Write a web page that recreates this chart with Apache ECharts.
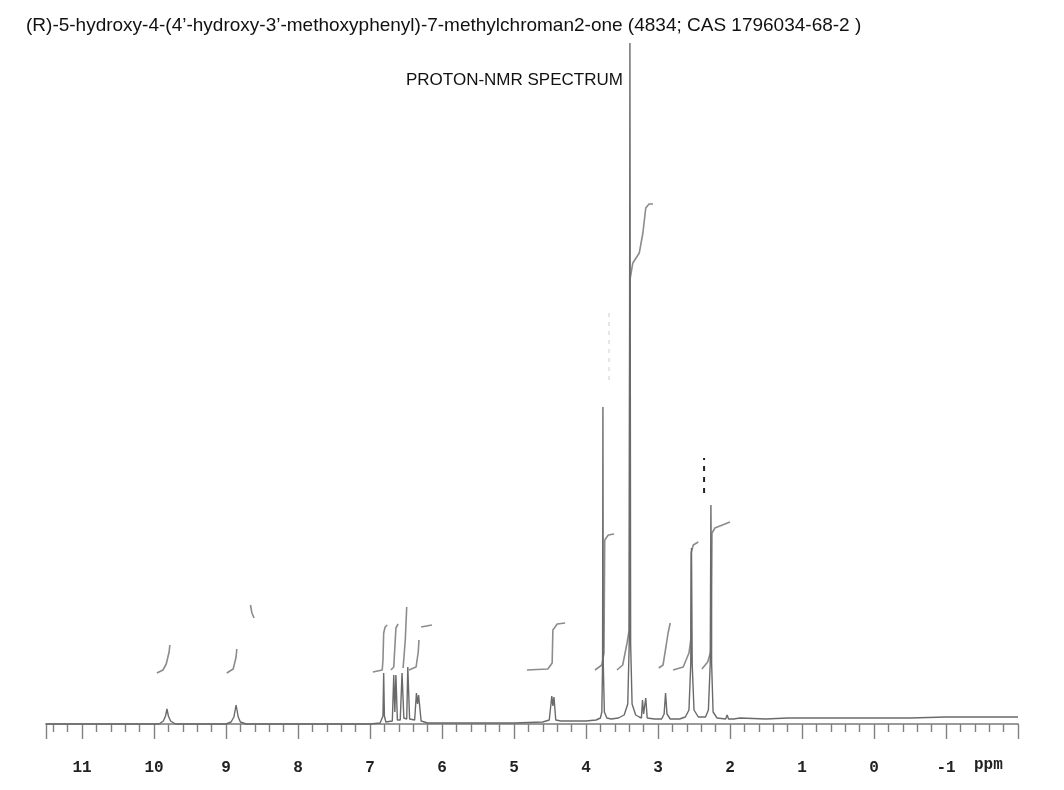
<!DOCTYPE html>
<html>
<head>
<meta charset="utf-8">
<script src="https://cdn.jsdelivr.net/npm/echarts@6/dist/echarts.min.js"></script>
<style>html,body{margin:0;padding:0;background:#fff;}#c{width:1064px;height:790px;}</style>
</head>
<body>
<div id="c"></div>
<script>
// ---- Data (ppm, relative intensity) ----
const titleText = "(R)-5-hydroxy-4-(4\u2019-hydroxy-3\u2019-methoxyphenyl)-7-methylchroman2-one (4834; CAS 1796034-68-2 )";
const subTitleText = "PROTON-NMR SPECTRUM";
const axisUnit = "ppm";
const tickLabels = [11, 10, 9, 8, 7, 6, 5, 4, 3, 2, 1, 0, -1];

const spectrum = [
  [11.5,0],[10.5,0],[10.0,0],
  [9.93,0],[9.87,3],[9.84,8],[9.82,15],[9.80,8],[9.77,3],[9.70,0],
  [9.0,0],[8.93,2],[8.89,7],[8.86,19],[8.83,7],[8.80,2],[8.72,0],
  [7.5,0],[7.0,0],[6.86,1],
  [6.82,8],[6.81,51],[6.80,8],[6.78,2],
  [6.69,3],[6.67,49],[6.655,12],[6.64,49],[6.62,4],
  [6.58,4],[6.555,51],[6.53,6],
  [6.49,5],[6.475,57],[6.45,5],
  [6.38,4],[6.355,31],[6.34,20],[6.325,29],[6.29,3],[6.2,1],
  [5.0,1],[4.6,2],[4.51,4],[4.475,28],[4.46,18],[4.445,27],[4.42,4],[4.35,3],
  [4.0,3],[3.86,4],[3.8,6],[3.78,12],[3.77,60],[3.765,317],[3.76,60],[3.745,12],[3.71,6],[3.65,5],
  [3.55,6],[3.47,9],[3.42,20],[3.40,80],[3.39,681],[3.38,80],[3.36,20],[3.31,9],[3.26,7],
  [3.23,6],[3.215,24],[3.20,10],[3.17,26],[3.15,6],[3.05,5],
  [2.95,5],[2.915,10],[2.895,31],[2.875,10],[2.83,5],
  [2.7,5],[2.62,7],[2.57,14],[2.545,60],[2.535,176],[2.525,60],[2.50,14],[2.44,7],
  [2.34,7],[2.30,14],[2.275,60],[2.265,219],[2.255,60],[2.235,12],[2.18,6],
  [2.06,5],[2.04,9],[2.02,5],[1.95,5],[1.86,6],[1.84,5],[1.5,5],[1.2,6],[1.0,6],
  [0.5,6],[0.0,6],[-0.5,6],[-1.0,7],[-1.5,7],[-2.0,7]
];

// integral traces (each a separate curve piece)
const integralA = [[9.96,51],[9.875,54],[9.83,60],[9.79,72],[9.78,79]];
const integralB = [[8.99,51],[8.90,55],[8.86,67],[8.85,75]];
const integralC = [[8.66,119],[8.64,111],[8.61,106]];
const integralD1 = [[6.96,52],[6.83,54],[6.82,64],[6.81,91],[6.79,97],[6.76,99]];
const integralD2 = [[6.71,54],[6.67,57],[6.64,96],[6.61,100]];
const integralD3 = [[6.54,56],[6.51,84],[6.49,117]];
const integralD4 = [[6.46,54],[6.36,57],[6.33,72],[6.32,84]];
const integralD5 = [[6.29,97],[6.14,99]];
const integralE = [[4.82,54],[4.53,55],[4.47,61],[4.46,94],[4.40,100],[4.29,101]];
const integralF = [[3.875,54],[3.78,59],[3.75,71],[3.74,184],[3.69,189],[3.61,190]];
const integralG = [[3.57,54],[3.49,59],[3.43,81],[3.40,94],[3.39,444],[3.35,461],[3.26,471],[3.21,491],[3.17,516],[3.125,520],[3.07,520]];
const integralH = [[2.99,56],[2.93,59],[2.89,77],[2.86,91],[2.83,101]];
const integralI = [[2.79,54],[2.65,57],[2.57,71],[2.545,84],[2.54,171],[2.51,179],[2.44,182]];
const integralJ = [[2.39,55],[2.31,62],[2.26,74],[2.25,191],[2.21,196],[2.0,202]];
const integrals = [integralA, integralB, integralC, integralD1, integralD2, integralD3, integralD4, integralD5,
  integralE, integralF, integralG, integralH, integralI, integralJ];

const markerDark = [[2.36,231],[2.36,266]];
const markerFaint = [[3.68,344],[3.68,411]];

// ---- Chart ----
const chart = echarts.init(document.getElementById('c'), null, {renderer: 'canvas'});
const series = [];
series.push({
  type: 'line', data: spectrum, showSymbol: false, symbol: 'none', animation: false,
  lineStyle: {color: '#6a6a6a', width: 1.4}, z: 3
});
integrals.forEach(seg => series.push({
  type: 'line', data: seg, showSymbol: false, symbol: 'none', animation: false,
  lineStyle: {color: '#8c8c8c', width: 1.6}, z: 2
}));
series.push({type: 'line', data: markerDark, showSymbol: false, symbol: 'none', animation: false,
  lineStyle: {color: '#222', width: 2, type: [5, 6]}});
series.push({type: 'line', data: markerFaint, showSymbol: false, symbol: 'none', animation: false,
  lineStyle: {color: '#ccc', width: 1, type: [4, 5]}});

chart.setOption({
  backgroundColor: '#fff',
  animation: false,
  title: [
    {text: titleText, left: 21, top: 11,
     textStyle: {fontFamily: 'Liberation Sans', fontSize: 19, fontWeight: 'normal', color: '#111'}},
    {text: subTitleText, left: 401, top: 67,
     textStyle: {fontFamily: 'Liberation Sans', fontSize: 17, fontWeight: 'normal', color: '#111'}}
  ],
  graphic: [
    {type: 'text', left: 974, top: 757,
     style: {text: axisUnit, font: 'bold 16px "Liberation Mono"', fill: '#222'}}
  ],
  grid: {left: 46, right: 46, top: 40, bottom: 57},
  xAxis: {
    type: 'value', min: -2, max: 11.5, interval: 1, inverse: true,
    axisLine: {show: true, lineStyle: {color: '#9a9a9a', width: 1.8}},
    axisTick: {show: true, length: 15, lineStyle: {color: '#808080', width: 1.4}},
    minorTick: {show: true, splitNumber: 5, length: 8, lineStyle: {color: '#808080', width: 1.4}},
    splitLine: {show: false},
    axisLabel: {
      margin: 27, fontFamily: 'Liberation Mono', fontWeight: 'bold', fontSize: 16, color: '#222',
      formatter: v => (tickLabels.indexOf(v) >= 0 ? String(v) : '')
    }
  },
  yAxis: {type: 'value', min: -9, max: 684, show: false},
  series: series
});
</script>
</body>
</html>
